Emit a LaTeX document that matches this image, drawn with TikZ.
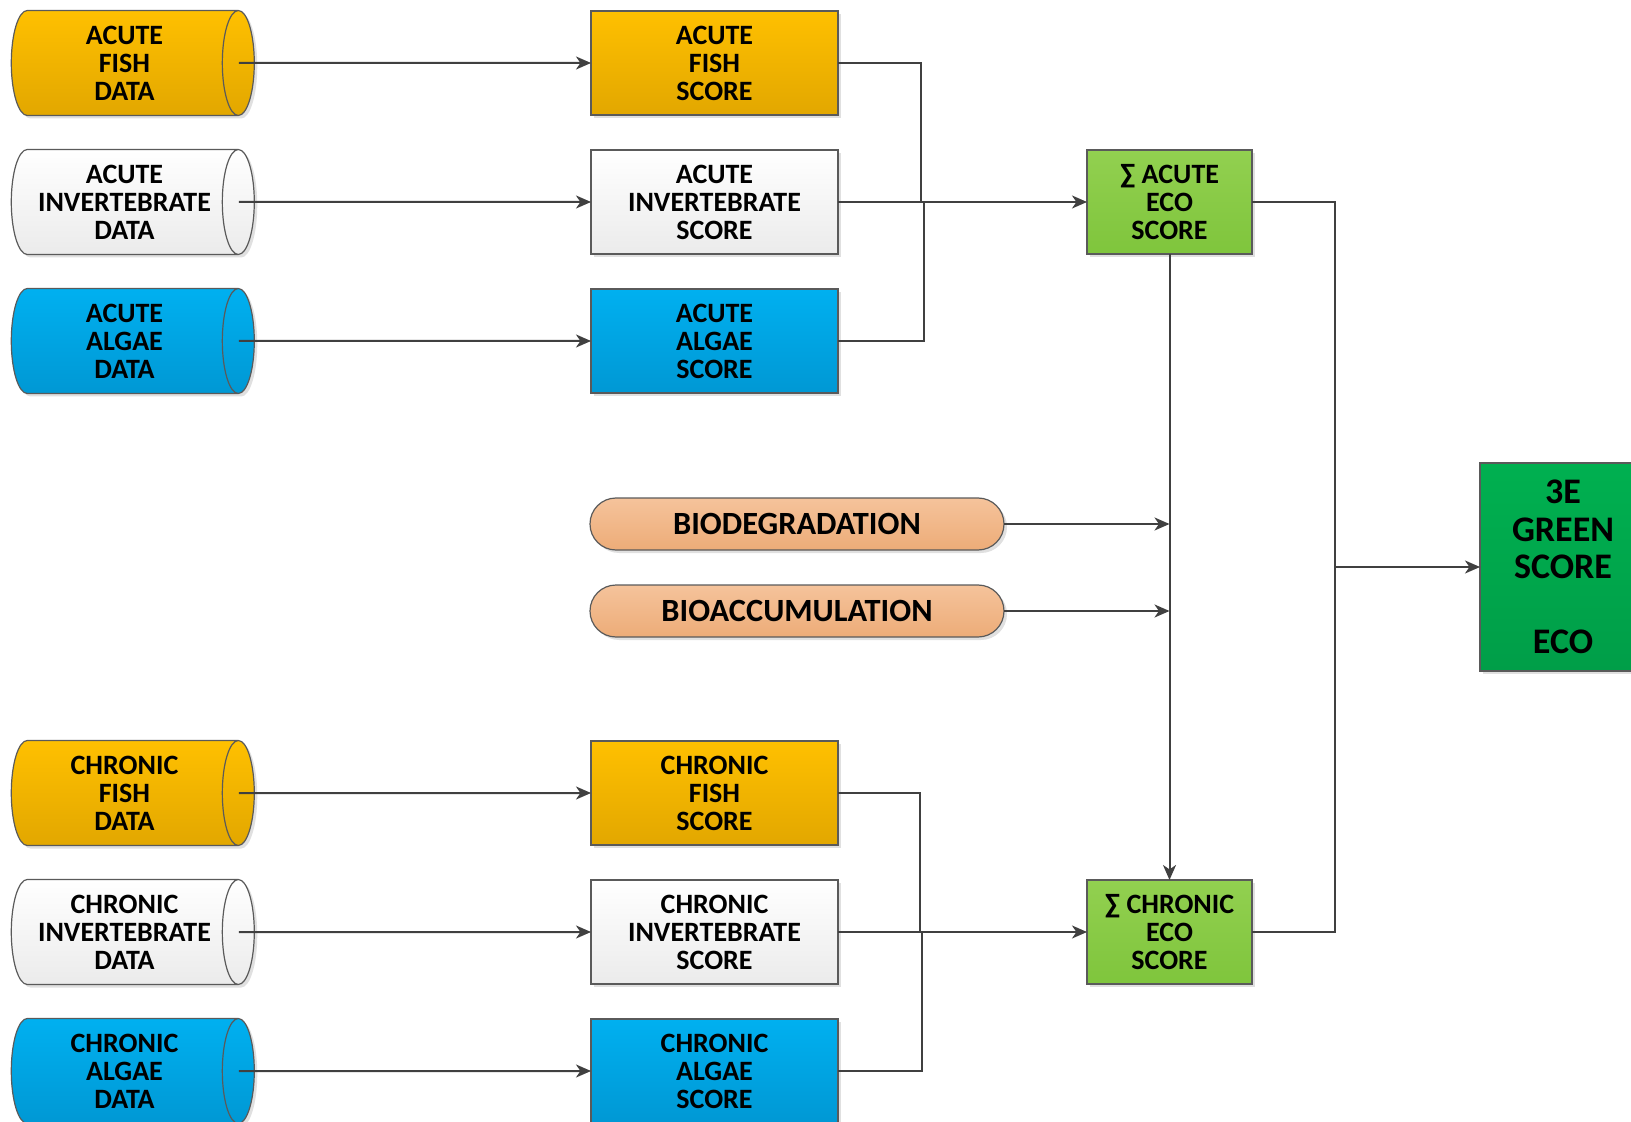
\documentclass[tikz,border=0pt]{standalone}
\usepackage{fontspec}
\setmainfont{Carlito}
\usetikzlibrary{shapes.geometric, shapes.misc, arrows.meta, shadows}

\definecolor{fishtop}{HTML}{FFC000}
\definecolor{fishbot}{HTML}{E2A700}
\definecolor{algtop}{HTML}{00B0F0}
\definecolor{algbot}{HTML}{0098D4}
\definecolor{invtop}{HTML}{FFFFFF}
\definecolor{invbot}{HTML}{EBEBEB}
\definecolor{ecotop}{HTML}{92D050}
\definecolor{ecobot}{HTML}{7FC53C}
\definecolor{greentop}{HTML}{00B050}
\definecolor{greenbot}{HTML}{009E48}
\definecolor{biotop}{HTML}{F5C39B}
\definecolor{biobot}{HTML}{EDAC78}
\definecolor{edge}{HTML}{5A5A5A}
\definecolor{wire}{HTML}{404040}

\begin{document}
\begin{tikzpicture}[x=0.5pt, y=-0.5pt,
        every node/.style={inner sep=0pt, outer sep=0pt, align=center,
            font=\bfseries\fontsize{14}{14}\selectfont},
        shade/.style={drop shadow={shadow xshift=1.5pt, shadow yshift=-1.5pt, fill=black, opacity=0.12}},
        data/.style={cylinder, shape border rotate=0, aspect=0.43, draw=edge, line width=0.6pt,
            minimum width=52.5pt, minimum height=121.5pt, shade},
        score/.style={rectangle, draw=edge, line width=0.7pt, minimum width=123.5pt, minimum height=52pt, shade},
        eco/.style={rectangle, draw=edge, line width=0.7pt, top color=ecotop, bottom color=ecobot,
            minimum width=82.5pt, minimum height=52pt, shade},
        extra/.style={rounded rectangle, draw=edge, line width=0.6pt, top color=biotop, bottom color=biobot,
            minimum width=207pt, minimum height=26pt, shade, font=\bfseries\fontsize{16.2}{18}\selectfont},
        fish/.style={top color=fishtop, bottom color=fishbot},
        invert/.style={top color=invtop, bottom color=invbot},
        algae/.style={top color=algtop, bottom color=algbot},
        link/.style={draw=wire, line width=1pt},
        >={Stealth[length=7.5pt, width=6.5pt, inset=2.2pt]}]

        \useasboundingbox (0, 0) rectangle (1631, 1122);
        \clip (0, 0) rectangle (1631, 1122);

        % acute branch
        \node[data, fish] (AFD) at (124.5, 63) {ACUTE\\FISH\\DATA};
        \node[data, invert] (AID) at (124.5, 202) {ACUTE\\INVERTEBRATE\\DATA};
        \node[data, algae] (AAD) at (124.5, 341) {ACUTE\\ALGAE\\DATA};
        \node[score, fish] (AFS) at (714.5, 63) {ACUTE\\FISH\\SCORE};
        \node[score, invert] (AIS) at (714.5, 202) {ACUTE\\INVERTEBRATE\\SCORE};
        \node[score, algae] (AAS) at (714.5, 341) {ACUTE\\ALGAE\\SCORE};
        \node[eco] (AE) at (1169.5, 202) {∑ ACUTE\\ECO\\SCORE};

        % chronic branch
        \node[data, fish] (CFD) at (124.5, 793) {CHRONIC\\FISH\\DATA};
        \node[data, invert] (CID) at (124.5, 932) {CHRONIC\\INVERTEBRATE\\DATA};
        \node[data, algae] (CAD) at (124.5, 1071) {CHRONIC\\ALGAE\\DATA};
        \node[score, fish] (CFS) at (714.5, 793) {CHRONIC\\FISH\\SCORE};
        \node[score, invert] (CIS) at (714.5, 932) {CHRONIC\\INVERTEBRATE\\SCORE};
        \node[score, algae] (CAS) at (714.5, 1071) {CHRONIC\\ALGAE\\SCORE};
        \node[eco] (CE) at (1169.5, 932) {∑ CHRONIC\\ECO\\SCORE};

        \node[extra] (BD) at (797, 524) {BIODEGRADATION};
        \node[extra] (BA) at (797, 611) {BIOACCUMULATION};

        \node[rectangle, draw=edge, line width=0.7pt, top color=greentop, bottom color=greenbot,
            minimum width=83pt, minimum height=104pt, shade,
            font=\bfseries\fontsize{18}{18.7}\selectfont] (G) at (1563, 567)
            {3E\\GREEN\\SCORE\\[18.7pt]ECO};

        \coordinate (AJ1) at (921, 202);
        \coordinate (AJ2) at (924, 202);
        \coordinate (CJ1) at (920, 932);
        \coordinate (CJ2) at (922, 932);
        \coordinate (K) at (1335, 567);

        \draw[->, link] ([xshift=-7.75pt]AFD.east) -- (AFS);
        \draw[->, link] ([xshift=-7.75pt]AID.east) -- (AIS);
        \draw[->, link] ([xshift=-7.75pt]AAD.east) -- (AAS);
        \draw[->, link] ([xshift=-7.75pt]CFD.east) -- (CFS);
        \draw[->, link] ([xshift=-7.75pt]CID.east) -- (CIS);
        \draw[->, link] ([xshift=-7.75pt]CAD.east) -- (CAS);

        \draw[link] (AFS.east) -| (AJ1);
        \draw[link] (AAS.east) -| (AJ2);
        \draw[->, link] (AIS) -- (AE);
        \draw[link] (CFS.east) -| (CJ1);
        \draw[link] (CAS.east) -| (CJ2);
        \draw[->, link] (CIS) -- (CE);

        \draw[->, link] (AE) -- (CE);
        \draw[->, link] (BD.east) -- (BD -| AE);
        \draw[->, link] (BA.east) -- (BA -| AE);

        \draw[link] (AE.east) -| (K) |- (CE.east);
        \draw[->, link] (K) -- (G);
    \end{tikzpicture}
\end{document}
